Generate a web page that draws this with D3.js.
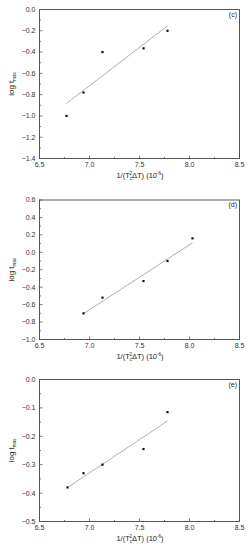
<!DOCTYPE html>
<html>
<head>
<meta charset="utf-8">
<script src="https://cdn.jsdelivr.net/npm/d3@7"></script>
<style>
  body { margin: 0; background: #fff; }
  svg { display: block; font-family: "Liberation Sans", Arial, sans-serif; }
</style>
</head>
<body>
<div id="chart"></div>
<script>
// data
const xC = [6.77, 6.94, 7.13, 7.54, 7.78]
const yC = [-1.0, -0.78, -0.40, -0.365, -0.20]
const xD = [6.94, 7.13, 7.54, 7.78, 8.03]
const yD = [-0.70, -0.52, -0.33, -0.10, 0.16]
const xE = [6.78, 6.94, 7.13, 7.54, 7.78]
const yE = [-0.38, -0.33, -0.30, -0.245, -0.115]

const xDomain = [6.5, 8.5]
const xTicks = [6.5, 7.0, 7.5, 8.0, 8.5]
const yTicksC = [0.0, -0.2, -0.4, -0.6, -0.8, -1.0, -1.2, -1.4]
const yTicksD = [0.6, 0.4, 0.2, 0.0, -0.2, -0.4, -0.6, -0.8, -1.0]
const yTicksE = [0.0, -0.1, -0.2, -0.3, -0.4, -0.5]
const labels = ['(c)', '(d)', '(e)']

const panels = [
    { x: xC, y: yC, ticks: yTicksC, label: labels[0], top: 9.5, bottom: 158.5 },
    { x: xD, y: yD, ticks: yTicksD, label: labels[1], top: 200, bottom: 339.5 },
    { x: xE, y: yE, ticks: yTicksE, label: labels[2], top: 379.5, bottom: 521.5 }
]

const W = 252, H = 550
const left = 39.5, right = 239.5
const axisColor = '#555'

const svg = d3.select('#chart').append('svg')
    .attr('width', W)
    .attr('height', H)

// least squares fit
const fit = (xs, ys) => {
    const mx = d3.mean(xs), my = d3.mean(ys)
    const sxy = d3.sum(xs, (v, i) => (v - mx) * (ys[i] - my))
    const sxx = d3.sum(xs, v => (v - mx) * (v - mx))
    const b = sxy / sxx
    return v => my + b * (v - mx)
}

const fmt = d3.format('.1f')

panels.forEach(p => {
    const x = d3.scaleLinear().domain(xDomain).range([left, right])
    const yExt = d3.extent(p.ticks)
    const y = d3.scaleLinear().domain(yExt).range([p.bottom, p.top])
    const g = svg.append('g')
    const yStep = Math.abs(p.ticks[1] - p.ticks[0])

    // frame
    g.append('rect')
        .attr('x', left).attr('y', p.top)
        .attr('width', right - left).attr('height', p.bottom - p.top)
        .attr('fill', 'none')
        .attr('stroke', axisColor)
        .attr('stroke-width', 1)

    // x ticks (inward), with minor ones
    const xMinor = d3.range(xDomain[0], xDomain[1] + 0.001, 0.25)
    g.selectAll('.xt').data(xMinor).enter().append('line')
        .attr('x1', d => x(d)).attr('x2', d => x(d))
        .attr('y1', p.bottom)
        .attr('y2', (d, i) => p.bottom - (i % 2 === 0 ? 3 : 1.5))
        .attr('stroke', axisColor).attr('stroke-width', 0.8)
    g.selectAll('.xl').data(xTicks).enter().append('text')
        .attr('x', d => x(d)).attr('y', p.bottom + 8.5)
        .attr('text-anchor', 'middle')
        .attr('font-size', 7)
        .attr('fill', '#333')
        .text(fmt)

    // y ticks
    const yMinor = d3.range(0, Math.round((yExt[1] - yExt[0]) / yStep * 2) + 1)
        .map(i => yExt[0] + i * yStep / 2)
    g.selectAll('.yt').data(yMinor).enter().append('line')
        .attr('y1', d => y(d)).attr('y2', d => y(d))
        .attr('x1', left)
        .attr('x2', (d, i) => left + (i % 2 === 0 ? 3 : 1.5))
        .attr('stroke', axisColor).attr('stroke-width', 0.8)
    g.selectAll('.yl').data(p.ticks).enter().append('text')
        .attr('x', left - 4).attr('y', d => y(d) + 2.4)
        .attr('text-anchor', 'end')
        .attr('font-size', 7)
        .attr('fill', '#333')
        .text(fmt)

    // axis titles
    const xt = g.append('text')
        .attr('x', 140).attr('y', p.bottom + 19.5)
        .attr('text-anchor', 'middle')
        .attr('font-size', 7.5)
        .attr('fill', '#222')
    xt.append('tspan').text('1/(T')
    xt.append('tspan').attr('font-size', 4.5).attr('dy', 2).text('c')
    xt.append('tspan').attr('font-size', 4.5).attr('dx', -2.5).attr('dy', -5).text('2')
    xt.append('tspan').attr('dy', 3).text('ΔT) (10')
    xt.append('tspan').attr('font-size', 4.5).attr('dy', -3).text('-6')
    xt.append('tspan').attr('dy', 3).text(')')

    const yt = g.append('text')
        .attr('transform', `translate(14, ${(p.top + p.bottom) / 2}) rotate(-90)`)
        .attr('text-anchor', 'middle')
        .attr('font-size', 8)
        .attr('fill', '#222')
    yt.append('tspan').text('log t')
    yt.append('tspan').attr('font-size', 4.5).attr('dy', 2).text('max')

    // panel label
    g.append('text')
        .attr('x', right - 2.5).attr('y', p.top + 7)
        .attr('text-anchor', 'end')
        .attr('font-size', 7)
        .attr('fill', '#222')
        .text(p.label)

    // fit line
    const f = fit(p.x, p.y)
    const [x0, x1] = d3.extent(p.x)
    g.append('line')
        .attr('x1', x(x0)).attr('y1', y(f(x0)))
        .attr('x2', x(x1)).attr('y2', y(f(x1)))
        .attr('stroke', '#999')
        .attr('stroke-width', 0.8)

    // points
    g.selectAll('.pt').data(p.x).enter().append('rect')
        .attr('x', d => x(d) - 1.1)
        .attr('y', (d, i) => y(p.y[i]) - 1.1)
        .attr('width', 2.2).attr('height', 2.2)
        .attr('fill', '#111')
})
</script>
</body>
</html>
